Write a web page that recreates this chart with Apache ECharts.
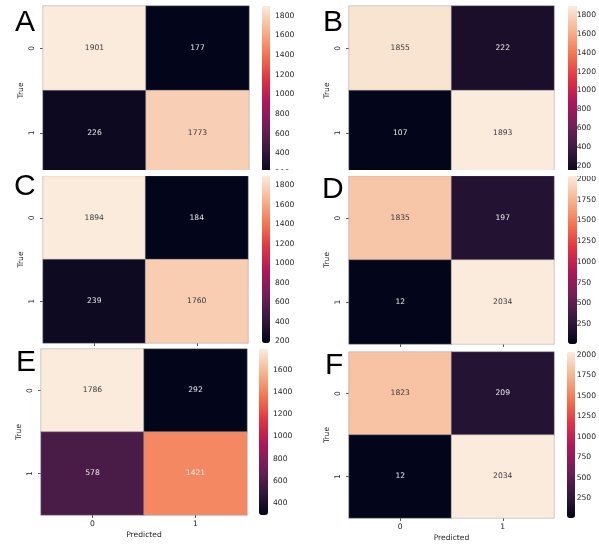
<!DOCTYPE html>
<html><head><meta charset="utf-8">
<script src="https://cdn.jsdelivr.net/npm/echarts@6/dist/echarts.min.js"></script>
<style>html,body{margin:0;padding:0;background:#fff}#c{width:599px;height:544px}</style>
</head><body><div id="c"></div>
<script>
// ---- data ----
const panelNames = ['A', 'B', 'C', 'D', 'E', 'F'];
const predictedCats = ['0', '1'];
const trueCats = ['0', '1'];
// rows = True (0,1), columns = Predicted (0,1)
const valuesA = [[1901, 177], [226, 1773]];
const valuesB = [[1855, 222], [107, 1893]];
const valuesC = [[1894, 184], [239, 1760]];
const valuesD = [[1835, 197], [12, 2034]];
const valuesE = [[1786, 292], [578, 1421]];
const valuesF = [[1823, 209], [12, 2034]];
const colorbarTicksA = [200, 400, 600, 800, 1000, 1200, 1400, 1600, 1800];
const colorbarTicksB = [200, 400, 600, 800, 1000, 1200, 1400, 1600, 1800];
const colorbarTicksC = [200, 400, 600, 800, 1000, 1200, 1400, 1600, 1800];
const colorbarTicksD = [250, 500, 750, 1000, 1250, 1500, 1750, 2000];
const colorbarTicksE = [400, 600, 800, 1000, 1200, 1400, 1600];
const colorbarTicksF = [250, 500, 750, 1000, 1250, 1500, 1750, 2000];
const xAxisTitle = 'Predicted';
const yAxisTitle = 'True';

// ---- layout / style ----
const FONT = 'DejaVu Sans';
const rocket = ['#03051a', '#35193e', '#701f57', '#ad1759', '#e13342', '#f37651', '#f6b48f', '#faebdd'];
const layouts = [
  {left: 43, top: 6, w: 206, h: 169, cbLeft: 262, cbW: 8, letter: [15, 8], xLabels: false},
  {left: 349, top: 6, w: 205, h: 169, cbLeft: 568, cbW: 9, letter: [323, 8], xLabels: false},
  {left: 43, top: 176, w: 205, h: 167, cbLeft: 262, cbW: 8, letter: [14, 172], xLabels: false},
  {left: 349, top: 176, w: 205, h: 168, cbLeft: 568, cbW: 9, letter: [322, 175], xLabels: false},
  {left: 41, top: 349, w: 206, h: 166, cbLeft: 259, cbW: 9, letter: [16, 348], xLabels: true},
  {left: 349, top: 352, w: 205, h: 166, cbLeft: 567, cbW: 8, letter: [325, 351], xLabels: true}
];
const panelValues = [valuesA, valuesB, valuesC, valuesD, valuesE, valuesF];
const panelTicks = [colorbarTicksA, colorbarTicksB, colorbarTicksC, colorbarTicksD, colorbarTicksE, colorbarTicksF];

const grid = [], xAxis = [], yAxis = [], series = [], visualMap = [], graphic = [];
const txtCol = '#262626';

panelValues.forEach((vals, i) => {
  const L = layouts[i];
  const flat = vals.flat();
  const vmin = Math.min(...flat), vmax = Math.max(...flat);
  grid.push({left: L.left, top: L.top, width: L.w, height: L.h, containLabel: false});
  grid.push({left: L.cbLeft, top: L.top, width: L.cbW, height: L.h, containLabel: false});
  xAxis.push({
    type: 'category', gridIndex: 2 * i, data: predictedCats, position: 'bottom',
    axisLine: {show: false}, splitLine: {show: false},
    axisTick: {show: true, alignWithLabel: true, length: 3, lineStyle: {color: '#333', width: 0.8}},
    axisLabel: {show: L.xLabels, fontFamily: FONT, fontSize: 7.6, color: txtCol, margin: 5},
    name: L.xLabels ? xAxisTitle : '', nameLocation: 'middle', nameGap: 16,
    nameTextStyle: {fontFamily: FONT, fontSize: 7.6, color: txtCol}
  });
  xAxis.push({type: 'value', gridIndex: 2 * i + 1, min: 0, max: 1, show: false});
  yAxis.push({
    type: 'category', gridIndex: 2 * i, data: trueCats, inverse: true,
    axisLine: {show: false}, splitLine: {show: false},
    axisTick: {show: true, alignWithLabel: true, length: 3, lineStyle: {color: '#333', width: 0.8}},
    axisLabel: {fontFamily: FONT, fontSize: 7.6, color: txtCol, rotate: 90, margin: 7},
    name: yAxisTitle, nameLocation: 'middle', nameRotate: 90, nameGap: 18,
    nameTextStyle: {fontFamily: FONT, fontSize: 7.6, color: txtCol}
  });
  yAxis.push({
    type: 'value', gridIndex: 2 * i + 1, min: vmin, max: vmax, position: 'right',
    axisLine: {show: false}, splitLine: {show: false},
    axisTick: {show: true, length: 3, customValues: panelTicks[i], lineStyle: {color: '#333', width: 0.8}},
    axisLabel: {customValues: panelTicks[i], fontFamily: FONT, fontSize: 7.6, color: txtCol, margin: 5,
      formatter: v => String(v)}
  });
  const data = [];
  vals.forEach((row, r) => row.forEach((v, c) => {
    const t = (v - vmin) / (vmax - vmin);
    data.push({value: [c, r, v], label: {color: t > 0.85 ? '#3a3a3a' : '#e8e8e8'}});
  }));
  series.push({
    type: 'heatmap', xAxisIndex: 2 * i, yAxisIndex: 2 * i, data: data,
    label: {show: true, fontFamily: FONT, fontSize: 7.6},
    itemStyle: {borderColor: 'rgba(150,150,150,0.9)', borderWidth: 0.5},
    emphasis: {disabled: true}, silent: true
  });
  visualMap.push({
    type: 'continuous', seriesIndex: i, min: vmin, max: vmax, calculable: false,
    orient: 'vertical', left: L.cbLeft, top: L.top, itemWidth: L.cbW, itemHeight: L.h,
    padding: 0, inRange: {color: rocket}, hoverLink: false, text: null
  });
});

// white gap where the lower row of panels overlaps the upper row
graphic.push({type: 'rect', shape: {x: 0, y: 170, width: 599, height: 6}, style: {fill: '#fff'}, z: 100});
layouts.forEach((L, i) => {
  graphic.push({
    type: 'text', x: L.letter[0], y: L.letter[1], z: 101,
    style: {text: panelNames[i], fontFamily: 'Liberation Sans', fontSize: 30, fill: '#000', textVerticalAlign: 'top'}
  });
});

const chart = echarts.init(document.getElementById('c'), null, {renderer: 'canvas'});
chart.setOption({
  animation: false, backgroundColor: '#fff',
  grid, xAxis, yAxis, series, visualMap, graphic
});
</script></body></html>
